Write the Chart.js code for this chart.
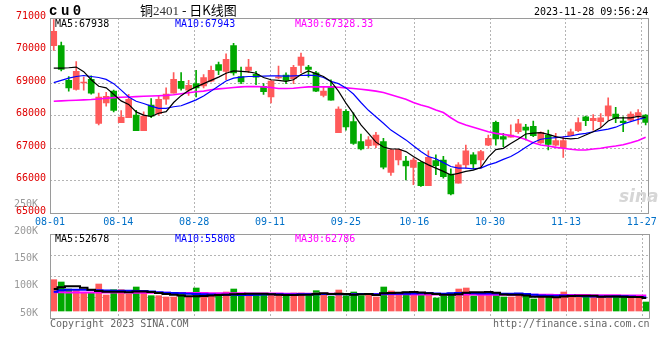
<!DOCTYPE html>
<html><head><meta charset="utf-8">
<script src="https://cdn.jsdelivr.net/npm/chart.js@4.4.0/dist/chart.umd.min.js"></script>
<style>
html,body{margin:0;padding:0;background:#fff;}
#wrap{position:relative;width:660px;height:360px;overflow:hidden;background:#fff;}
canvas{position:absolute;left:0;top:0;}
.t{position:absolute;white-space:pre;font-family:'DejaVu Sans Mono',monospace;font-size:10px;line-height:12px;}
</style></head><body>
<div id="wrap">
<canvas id="main" width="660" height="360"></canvas>
<canvas id="vol" width="660" height="360"></canvas>
<div class="t" style="left:49px;top:3px;font:bold 14px 'Liberation Mono',monospace;line-height:16px;letter-spacing:3.5px;color:#000">cu0</div>
<div class="t" style="left:140px;top:2px;font-family:'Noto Sans CJK SC';font-size:13px;line-height:15px;color:#000">铜<span style="font-family:'Liberation Serif';color:#333">2401</span> - 日K线图</div>
<div class="t" style="left:534px;top:6px;color:#000">2023-11-28 09:56:24</div>
<div class="t" style="left:55px;top:18px;color:#000">MA5:67938</div>
<div class="t" style="left:175px;top:18px;color:#0000ff">MA10:67943</div>
<div class="t" style="left:295px;top:18px;color:#ff00ff">MA30:67328.33</div>
<div class="t" style="left:55px;top:233px;color:#000">MA5:52678</div>
<div class="t" style="left:175px;top:233px;color:#0000ff">MA10:55808</div>
<div class="t" style="left:295px;top:233px;color:#ff00ff">MA30:62786</div>
<div class="t" style="left:50px;top:318px;color:#666">Copyright 2023 SINA.COM</div>
<div class="t" style="left:493px;top:318px;color:#666">http://finance.sina.com.cn</div>
<div class="t" style="left:619px;top:186px;font:italic bold 17px 'DejaVu Sans',sans-serif;line-height:20px;color:#d6d6d6">sina</div>
</div>
<script>
const dates = ['08-01','08-02','08-03','08-04','08-07','08-08','08-09','08-10','08-11','08-14','08-15','08-16','08-17','08-18','08-21','08-22','08-23','08-24','08-25','08-28','08-29','08-30','08-31',
'09-01','09-04','09-05','09-06','09-07','09-08','09-11','09-12','09-13','09-14','09-15','09-18','09-19','09-20','09-21','09-22','09-25','09-26','09-27','09-28',
'10-09','10-10','10-11','10-12','10-13','10-16','10-17','10-18','10-19','10-20','10-23','10-24','10-25','10-26','10-27','10-30','10-31',
'11-01','11-02','11-03','11-06','11-07','11-08','11-09','11-10','11-13','11-14','11-15','11-16','11-17','11-20','11-21','11-22','11-23','11-24','11-27','11-28'];
const tickDates = ['08-01','08-14','08-28','09-11','09-25','10-16','10-30','11-13','11-27'];
const priceTicks = [65000,66000,67000,68000,69000,70000,71000];
const volTickVals = [50000,100000,150000,200000,250000];

const opens = [70150,70150,69080,68800,69000,69110,67760,68390,68750,67780,67930,68010,67530,68320,68060,68500,68690,69050,68780,68980,
68910,69060,69570,69360,70150,69200,69390,69270,68900,68570,69160,69240,69130,69540,69490,69310,68620,68900,67470,68130,
67810,67200,67070,67090,67200,66250,66630,66600,66400,66560,65840,66610,66630,66200,65920,66480,66790,66630,67090,67790,
67350,67330,67500,67640,67670,67160,67400,67090,67010,67380,67530,67960,67840,67810,67990,68040,67830,67860,67980,68010];
const closes = [70590,69420,68850,69360,69020,68690,68570,68590,68160,67950,68500,67530,67980,67980,68500,68660,69110,68830,68930,68850,
69170,69390,69390,69730,69310,69030,69490,69180,68730,69060,69190,69080,69480,69800,69420,68750,68750,68470,68200,67650,
67140,66970,67250,67400,66410,66940,66960,66450,66630,65840,66710,66460,66120,65590,66480,66910,66510,66890,67300,67280,
67270,67400,67740,67550,67380,67480,67110,67230,67230,67500,67780,67840,67910,67930,68300,67910,67780,68040,68090,67790];
const highs = [70950,70260,69200,69660,69180,69220,68690,68710,68780,68150,68650,68160,68110,68520,68620,68850,69320,69320,69080,69390,
69260,69520,69640,69900,70220,69490,69730,69360,68980,69080,69520,69310,69540,69920,69540,69360,68900,69100,68270,68180,
68080,67430,67350,67480,67300,66960,66960,66740,66690,66580,66910,66790,66740,66360,66550,67090,66860,66930,67400,67830,
67450,67710,67880,67730,67830,67500,67550,67450,67350,67580,67930,67980,68030,68060,68540,68250,67960,68110,68180,68030];
const lows = [70000,69370,68750,68780,68780,68660,67710,68290,68110,67780,67930,67530,67530,67930,68010,68340,68690,68780,68620,68570,
68850,69030,69260,69100,69240,68980,69320,68950,68650,68390,69130,68980,68980,69320,69180,68730,68570,68470,67470,67550,
67110,66940,66990,67010,66360,66160,66480,66020,65870,65820,65840,66180,66070,65560,65920,66380,66360,66380,67070,67090,
67040,67330,67450,67250,67350,67140,66940,67060,66710,67380,67500,67690,67550,67650,67860,67780,67500,67830,67730,67710];

const ma5 = [69460,69460,69470,69490,69350,69100,68900,68850,68650,68450,68340,68110,68010,67970,68070,68120,68400,68610,68770,68880,
68980,69080,69180,69300,69370,69360,69340,69300,69170,69100,69080,69050,69100,69260,69370,69290,69200,69050,68750,68380,
68060,67710,67450,67180,67030,66970,66970,66890,66740,66600,66480,66380,66280,66170,66220,66280,66320,66400,66720,66950,
66990,67140,67280,67430,67460,67470,67420,67350,67300,67280,67300,67400,67500,67620,67830,67930,67930,67930,67970,67938];
const ma10 = [69010,69080,69150,69200,69230,69200,69170,69110,68980,68780,68570,68440,68370,68290,68220,68220,68270,68300,68390,68480,
68600,68750,68910,69060,69150,69180,69200,69200,69210,69220,69220,69210,69220,69230,69240,69230,69170,69050,68980,68850,
68660,68400,68160,67960,67760,67550,67400,67250,67070,66890,66740,66670,66550,66430,66380,66380,66360,66380,66480,66550,
66650,66740,66870,67020,67170,67270,67300,67320,67340,67370,67420,67450,67500,67540,67580,67640,67740,67810,67880,67943];
const ma30 = [68440,68450,68460,68470,68480,68490,68510,68530,68550,68560,68570,68580,68590,68600,68610,68620,68640,68670,68700,68730,
68750,68790,68820,68840,68860,68880,68890,68890,68880,68860,68830,68830,68840,68860,68880,68880,68880,68880,68870,68850,
68830,68810,68780,68750,68710,68640,68570,68500,68400,68320,68260,68170,68090,67930,67790,67710,67640,67570,67500,67450,
67420,67380,67340,67260,67160,67090,67060,67020,66990,66960,66940,66940,66970,66990,67030,67060,67100,67160,67230,67328.33];

const volumes = [127800,118300,89700,82900,73400,76100,110100,65300,87000,87000,69300,97900,73400,62500,62500,57100,57100,76100,57100,93800,
63900,70700,62500,77500,89700,62500,65300,68000,68000,65300,65300,59800,73400,73400,62500,82900,66600,59800,85600,62500,
77500,62500,66600,57100,97900,81600,66600,77500,76100,73400,66600,53000,62500,73400,89700,93800,61200,66600,77500,73400,
57100,57100,66600,62500,48900,57100,57100,57100,77500,55700,62500,57100,59800,55700,59800,62500,55700,53000,53000,36700];
const vma5 = [89700,97000,100600,100600,95000,87000,82000,79000,79000,79000,77000,80000,80000,77500,73400,69000,66600,63000,60000,59800,
61000,63000,65000,66600,68000,69300,70000,70700,70000,68000,66600,65300,65300,66600,66600,69300,72000,69300,70700,69300,
66600,68000,69300,65300,72000,73400,74000,76000,78000,75000,72000,69300,66600,66600,68000,74000,76000,77000,77500,74500,
67000,66000,66600,63000,58500,58500,58500,56500,59600,61000,62000,62000,62500,58000,59000,59000,58500,57400,56900,52678];
const vma10 = [79000,85000,87000,87000,87000,86000,85000,84000,83000,83000,83000,82000,82000,80000,77000,74000,73000,72000,70000,69000,
68000,67000,66000,66000,66000,65500,65500,66000,67000,68000,68000,67500,67500,68000,68000,68500,69000,68000,68500,68500,
68500,69000,69000,68000,70000,70500,70000,70500,71500,72000,73000,71000,70000,72000,73000,73000,72000,71000,71500,71000,
70000,70000,71000,69000,66500,63000,62000,62000,63000,62500,61000,60000,59500,59000,59000,60000,60000,59000,57500,55808];
const vma30 = [76000,76000,75900,75800,75700,75600,75500,75400,75300,75200,75000,74800,74600,74400,74200,74000,73800,73600,73400,73200,
73000,72800,72600,72400,72200,72000,71800,71600,71400,71200,71000,70800,70600,70500,70400,70300,70200,70000,69800,69600,
69400,69200,69000,68800,68600,68400,68200,68000,67800,67600,67500,67400,67300,67200,67100,67000,66900,66800,66700,66600,
66600,66500,66400,66300,66200,66000,65800,65600,65400,65200,65000,64800,64600,64400,64200,64000,63700,63400,63100,62786];

const UP = '#ff5a5a', DOWN = '#00a800', GRID = '#b4b4b4';
const candleColors = opens.map((o, i) => closes[i] >= o ? UP : DOWN);
const tickIdx = tickDates.map(d => dates.indexOf(d));

Chart.defaults.font.family = "'DejaVu Sans Mono', monospace";
Chart.defaults.font.size = 10;

const frame = {
  id: 'frame',
  afterDraw(chart) {
    const a = chart.chartArea, c = chart.ctx;
    c.save();
    c.strokeStyle = '#9a9a9a';
    c.lineWidth = 1;
    c.strokeRect(Math.round(a.left) + 0.5, Math.round(a.top) + 0.5, Math.round(a.right - a.left) - 1, Math.round(a.bottom - a.top));
    c.restore();
  }
};

const xGridAxis = (showLabels) => ({
  type: 'linear', position: 'bottom', min: 0, max: dates.length - 1,
  afterBuildTicks(s) { s.ticks = tickIdx.map(v => ({ value: v })); },
  ticks: { display: showLabels, autoSkip: false, maxRotation: 0, color: '#0070c8', padding: 3,
           callback: v => dates[v] },
  grid: { color: GRID, drawTicks: false, lineWidth: 1 },
  border: { display: false, dash: [2, 2] },
  afterFit(s) { s.height = showLabels ? 20 : 0; }
});

new Chart(document.getElementById('main'), {
  data: {
    labels: dates,
    datasets: [
      { type: 'line', data: ma5, borderColor: '#000000', borderWidth: 1.2, pointRadius: 0, tension: 0, order: 0 },
      { type: 'line', data: ma10, borderColor: '#0000ff', borderWidth: 1.2, pointRadius: 0, tension: 0, order: 0 },
      { type: 'line', data: ma30, borderColor: '#ff00ff', borderWidth: 1.6, pointRadius: 0, tension: 0, order: 0 },
      { type: 'bar', data: lows.map((l, i) => [l, highs[i]]), backgroundColor: candleColors, barThickness: 1, grouped: false, order: 2 },
      { type: 'bar', data: opens.map((o, i) => [o, closes[i]]), backgroundColor: candleColors, barThickness: 6, minBarLength: 1, grouped: false, order: 1 }
    ]
  },
  options: {
    responsive: false, animation: false, devicePixelRatio: 1,
    layout: { padding: { left: 0, right: 10, top: 18, bottom: 127 } },
    plugins: { legend: { display: false }, tooltip: { enabled: false } },
    scales: {
      x: { type: 'category', display: false, offset: true },
      x2: xGridAxis(true),
      y: {
        type: 'linear', position: 'left', min: priceTicks[0], max: priceTicks[priceTicks.length - 1],
        afterBuildTicks(s) { s.ticks = priceTicks.map(v => ({ value: v })); },
        ticks: { color: '#e00000', padding: 4, labelOffset: -2, callback: v => String(v) },
        grid: { color: GRID, drawTicks: false },
        border: { display: false, dash: [2, 2] },
        afterFit(s) { s.width = 50; }
      }
    }
  },
  plugins: [frame]
});

const volMin = -28500, volMax = 314000;
new Chart(document.getElementById('vol'), {
  data: {
    labels: dates,
    datasets: [
      { type: 'line', data: vma5, borderColor: '#000000', borderWidth: 2, stepped: 'middle', pointRadius: 0, order: 0, yAxisID: 'yv' },
      { type: 'line', data: vma10, borderColor: '#0000ff', borderWidth: 2, stepped: 'middle', pointRadius: 0, order: 0, yAxisID: 'yv' },
      { type: 'line', data: vma30, borderColor: '#ff00ff', borderWidth: 2, stepped: 'middle', pointRadius: 0, order: 0, yAxisID: 'yv' },
      { type: 'bar', data: volumes, backgroundColor: candleColors, barThickness: 6, base: 0, grouped: false, order: 1, yAxisID: 'yv' }
    ]
  },
  options: {
    responsive: false, animation: false, devicePixelRatio: 1,
    layout: { padding: { left: 0, right: 10, top: 234, bottom: 42 } },
    plugins: { legend: { display: false }, tooltip: { enabled: false } },
    scales: {
      x: { type: 'category', display: false, offset: true },
      x2: xGridAxis(false),
      yv: {
        type: 'linear', position: 'left', min: volMin, max: volMax,
        afterBuildTicks(s) { s.ticks = [1, 2, 3].map(k => ({ value: volMin + k * (volMax - volMin) / 4 })); },
        ticks: { display: false },
        grid: { color: GRID, drawTicks: false },
        border: { display: false, dash: [2, 2] },
        afterFit(s) { s.width = 0; }
      },
      yl: {
        type: 'linear', position: 'left', min: 41000, max: 195100,
        afterBuildTicks(s) { s.ticks = volTickVals.map(v => ({ value: v })); },
        ticks: { color: '#999999', padding: 4, callback: v => (v / 1000) + 'K' },
        grid: { display: false },
        border: { display: false },
        afterFit(s) { s.width = 50; }
      }
    }
  },
  plugins: [frame]
});
</script>
</body></html>
